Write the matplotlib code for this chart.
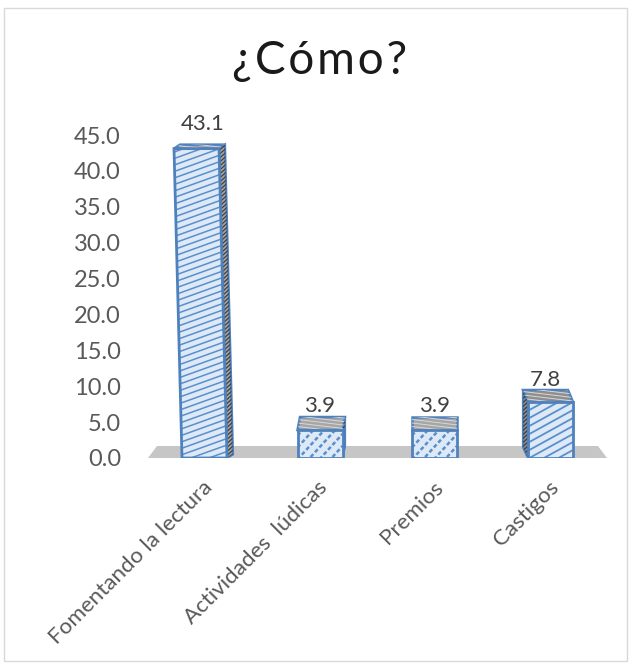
import numpy as np
import matplotlib
matplotlib.use("Agg")
import matplotlib.pyplot as plt
from matplotlib.patches import Polygon, Rectangle
from matplotlib.transforms import ScaledTranslation

plt.rcParams['font.family'] = ['Lato', 'Open Sans', 'DejaVu Sans']

categories = ["Fomentando la lectura", "Actividades  lúdicas", "Premios", "Castigos"]
values = [43.1, 3.9, 3.9, 7.8]
y_ticks = [0, 5, 10, 15, 20, 25, 30, 35, 40, 45]
title = "¿\u200aC\u200aó\u200am\u200ao\u200a?"

W, H = 629, 670
fig = plt.figure(figsize=(W / 100, H / 100), dpi=100)
fig.patch.set_facecolor("white")

# figure frame
fig.add_artist(Rectangle((4 / W, 1 - 661 / H), 623 / W, 653 / H, transform=fig.transFigure,
                         fc="white", ec="#D9D9D9", lw=1, zorder=-1))

ax_l, ax_r, ax_top, ax_bot = 130, 610, 135.0, 458.0
ax = fig.add_axes([ax_l / W, 1 - ax_bot / H, (ax_r - ax_l) / W, (ax_bot - ax_top) / H])
ax.patch.set_alpha(0)
sx = 115.5                           # pixels per category
sy = (ax_bot - ax_top) / 45.0        # pixels per unit
ax.set_xlim((ax_l - 205) / sx, (ax_r - 205) / sx)
ax.set_ylim(0, 45)
ax.set_autoscale_on(False)
px = lambda d: d / sx
py = lambda d: d / sy

for s in ax.spines.values():
    s.set_visible(False)
ax.set_yticks(y_ticks)
ax.set_yticklabels([f"{v:.1f}" for v in y_ticks], fontsize=17, color="#595959")
ax.set_xticks(range(len(categories)))
ax.set_xticklabels(categories, fontsize=16.1, color="#595959", rotation=45,
                   ha="right", rotation_mode="anchor")
ax.tick_params(length=0, axis="y", pad=6.5)
ax.tick_params(length=0, axis="x", pad=14)
shift = ScaledTranslation(-3 / 100, 0, fig.dpi_scale_trans)
for lab in ax.get_xticklabels():
    lab.set_transform(lab.get_transform() + shift)

# floor
ax.add_patch(Polygon([(px(148 - 205), 0), (px(607 - 205), 0),
                      (px(598 - 205), py(12)), (px(157 - 205), py(12))],
                     closed=True, fc="#C6C6C6", ec="none", zorder=1, clip_on=False))

EDGE = "#4F81BD"
FACE = "#DDE9F6"
half = px(22.5)
lean = [-8, 0, 0, 0]        # lean of the front face at the top, px
back_dx = [6, 2.5, 0, -5]   # offset of the back edge, px
back_dy = [4, 13, 13, 12]   # rise of the back edge, px
top_col = ["#A6A6A6", "#A6A6A6", "#A6A6A6", "#8F8F8F"]
hatch_slope = [0.36, 1.1, 1.1, 0.55]
hatch_gap = [6.5, 12, 12, 8]
hatch_lw = [1.1, 1.8, 1.8, 1.3]
hatch_ls = ["-", (0, (1.6, 1.0)), (0, (1.6, 1.0)), "-"]
center_fix = [-0.5, -0.5, -1.5, -1]
label_dx = [-1.5, 0, 0, -3.5]
label_gap = [11, 1, 1, 0]


def hatch(poly, slope, gap, color, lw=1.3, ls="-"):
    """Diagonal hatch clipped to a polygon, in pixel-based spacing."""
    xs = np.array([p[0] for p in poly.get_xy()]) * sx
    ys = np.array([p[1] for p in poly.get_xy()]) * sy
    x0, x1 = xs.min(), xs.max()
    lo = ys.min() - max(slope, 0) * (x1 - x0) - gap * 2
    hi = ys.max() + max(-slope, 0) * (x1 - x0) + gap
    for c in np.arange(lo, hi, gap):
        ln, = ax.plot([x0 / sx, x1 / sx], [c / sy, (c + slope * (x1 - x0)) / sy],
                      color=color, lw=lw, ls=ls, zorder=poly.get_zorder() + 0.1,
                      solid_capstyle="butt", dash_capstyle="butt")
        ln.set_clip_path(poly)


for i, v in enumerate(values):
    c = i + center_fix[i] / sx
    lean_x, dx, dy = px(lean[i]), px(back_dx[i]), py(back_dy[i])
    bl, br = (c - half, 0), (c + half, 0)
    tl, tr = (c - half + lean_x, v), (c + half + lean_x, v)
    btl, btr = (tl[0] + dx, v + dy), (tr[0] + dx, v + dy)

    # side face
    if back_dx[i] > 0:
        side = Polygon([br, tr, btr, (br[0] + dx, dy * 0.9)], closed=True, fc="#A6A6A6", ec=EDGE, lw=1.6, zorder=3)
    elif back_dx[i] < 0:
        side = Polygon([bl, tl, btl, (bl[0] + dx, dy * 0.9)], closed=True, fc="#8C8C8C", ec=EDGE, lw=1.6, zorder=3)
    else:
        side = None
    if side is not None:
        ax.add_patch(side)
        hatch(side, 0.9, 4, "#404040", lw=0.9)

    # top face
    top = Polygon([tl, tr, btr, btl], closed=True, fc=top_col[i], ec=EDGE, lw=1.8, zorder=3)
    ax.add_patch(top)
    hatch(top, -0.12, 3.5, "#D8D8D8", lw=0.7)

    # front face
    front = Polygon([bl, br, tr, tl], closed=True, fc=FACE, ec="none", zorder=4)
    ax.add_patch(front)
    hatch(front, hatch_slope[i], hatch_gap[i], "#5A8FCB", lw=hatch_lw[i], ls=hatch_ls[i])
    ax.add_patch(Polygon([bl, br, tr, tl], closed=True, fc="none", ec=EDGE, lw=2, zorder=5))

    ax.annotate(f"{v:.1f}", xy=(c, v + dy), xytext=(label_dx[i], label_gap[i] * 0.72),
                textcoords="offset points", ha="center", va="bottom",
                fontsize=16, color="#404040", zorder=6, annotation_clip=False)

fig.text(320 / W, 1 - 61 / H, title, ha="center", va="center", fontsize=33, color="#1A1A1A")

fig.savefig("out.png", dpi=100)
